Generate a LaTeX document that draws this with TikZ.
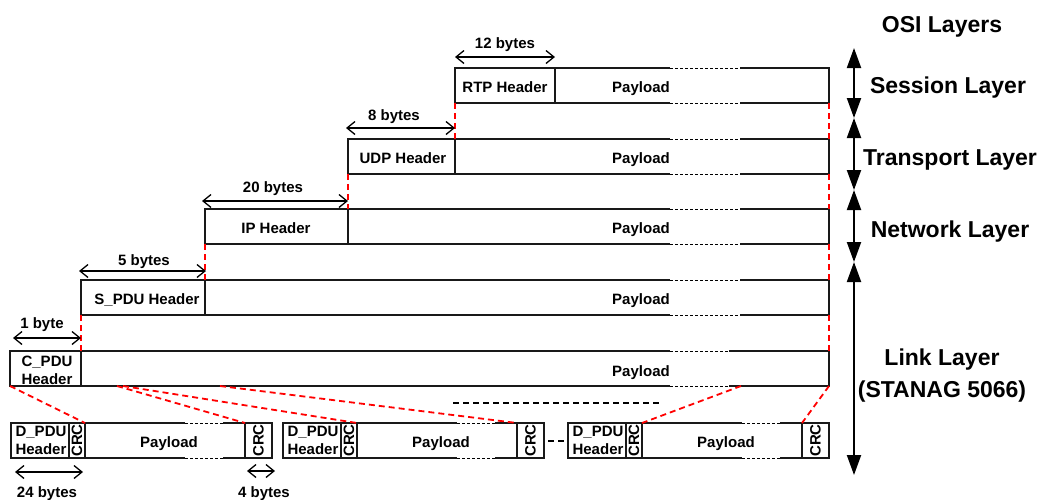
\documentclass[tikz,border=0pt]{standalone}
\usepackage{fontspec}
\setmainfont{Liberation Sans}
\usetikzlibrary{arrows.meta}
\begin{document}
\begin{tikzpicture}[x=1pt,y=-1pt,
  box/.style={draw=black!90, line width=1.4pt, rectangle, inner sep=0pt, outer sep=0pt,
              anchor=north west, minimum height=35pt},
  lbl/.style={font=\fontsize{15}{18}\selectfont\bfseries, inner sep=0pt, anchor=base},
  twoline/.style={font=\fontsize{15}{18}\selectfont\bfseries, inner sep=0pt, align=center},
  crctext/.style={font=\fontsize{15}{18}\selectfont\bfseries, inner sep=0pt, rotate=90},
  layer/.style={font=\fontsize{23}{27}\selectfont\bfseries, inner sep=0pt, anchor=base},
  split/.style={red, dash pattern=on 6pt off 4pt, line width=1.8pt},
  ellipsis/.style={black, dash pattern=on 6pt off 4pt, line width=2pt},
  dim/.style={{Straight Barb[length=8pt,width=13pt]}-{Straight Barb[length=8pt,width=13pt]}, line width=1.3pt},
  span/.style={{Triangle[length=20pt,width=14pt]}-{Triangle[length=20pt,width=14pt]}, line width=2pt},
  gapwhite/.style={white, line width=2.6pt},
  gapdash/.style={black, line width=0.9pt, dash pattern=on 3pt off 2pt},
]
\useasboundingbox (0,0) rectangle (1042,499);

% ---- protocol stack rows: header + payload ----
\node[box, minimum width=100pt] (rtph) at (455,68) {};
\node[box, minimum width=274pt] (rtpp) at (rtph.north east) {};
\node[box, minimum width=107pt] (udph) at (348,139) {};
\node[box, minimum width=374pt] (udpp) at (udph.north east) {};
\node[box, minimum width=143pt] (iph) at (205,209) {};
\node[box, minimum width=481pt] (ipp) at (iph.north east) {};
\node[box, minimum width=124pt] (spduh) at (81,280) {};
\node[box, minimum width=624pt] (spdup) at (spduh.north east) {};
\node[box, minimum width=71pt] (cpduh) at (10,351) {};
\node[box, minimum width=748pt] (cpdup) at (cpduh.north east) {};

% broken (dotted) stretches of the payload edges
\foreach \y/\xe in {68/740,103/740,139/740,174/740,209/740,244/740,280/740,315/740,351/729,386/729}{
  \draw[gapwhite] (670,\y) -- (\xe,\y);
  \draw[gapdash] (670,\y) -- (\xe,\y);
}

% row labels
\node[lbl] (rtpt) at (505,92) {RTP Header};
\node[lbl] (rtppt) at (641,92) {Payload};
\node[lbl] (udpt) at (403,163) {UDP Header};
\node[lbl] (udppt) at (641,163) {Payload};
\node[lbl] (ipt) at (276,233) {IP Header};
\node[lbl] (ippt) at (641,233) {Payload};
\node[lbl] (spdut) at (147,304) {S\_PDU Header};
\node[lbl] (spdupt) at (641,304) {Payload};
\node[twoline] (cpdut) at (47,370) {C\_PDU\\Header};
\node[lbl] (cpdupt) at (641,376) {Payload};

% ---- D_PDU frames ----
\foreach \i/\x in {1/11,2/283,3/568}{
  \node[box, minimum width=58pt] (d\i h) at (\x,423) {};
  \node[box, minimum width=16pt] (d\i c) at (d\i h.north east) {};
  \node[box, minimum width=160pt] (d\i p) at (d\i c.north east) {};
  \node[box, minimum width=27pt] (d\i r) at (d\i p.north east) {};
  \draw[gapwhite] ([xshift=100pt]d\i p.north west) -- ([xshift=138pt]d\i p.north west);
  \draw[gapdash] ([xshift=100pt]d\i p.north west) -- ([xshift=138pt]d\i p.north west);
  \draw[gapwhite] ([xshift=100pt]d\i p.south west) -- ([xshift=138pt]d\i p.south west);
  \draw[gapdash] ([xshift=100pt]d\i p.south west) -- ([xshift=138pt]d\i p.south west);
  \node[twoline] (d\i ht) at ([xshift=1pt]d\i h.center) {D\_PDU\\Header};
  \node[crctext] (d\i ct) at (d\i c.center) {CRC};
  \node[crctext] (d\i rt) at (d\i r.center) {CRC};
  \path (d\i p.center) ++(4,7) node[lbl] (d\i pt) {Payload};
}

% ---- red dashed mapping lines ----
\draw[split] (rtph.south west) -- (udpp.north west);
\draw[split] (rtpp.south east) -- (udpp.north east);
\draw[split] (udph.south west) -- (ipp.north west);
\draw[split] (udpp.south east) -- (ipp.north east);
\draw[split] (iph.south west) -- (spdup.north west);
\draw[split] (ipp.south east) -- (spdup.north east);
\draw[split] (spduh.south west) -- (cpdup.north west);
\draw[split] (spdup.south east) -- (cpdup.north east);

\coordinate (c1) at ([xshift=36pt]cpdup.south west);
\coordinate (c2) at ([xshift=42pt]cpdup.south west);
\coordinate (c3) at ([xshift=139pt]cpdup.south west);
\coordinate (c4) at ([xshift=660pt]cpdup.south west);
\draw[split] (cpduh.south west) -- (d1c.north east);
\draw[split] (c1) -- (d1p.north east);
\draw[split] (c2) -- (d2p.north west);
\draw[split] (c3) -- (d2p.north east);
\draw[split] (c4) -- (d3p.north west);
\draw[split] (cpdup.south east) -- (d3p.north east);

% continuation marks
\coordinate (m1) at (453,403);
\coordinate (m2) at (660,403);
\draw[ellipsis] (m1) -- (m2);
\draw[ellipsis, shorten <=4pt, shorten >=3pt] (d2r.east) -- (d3h.west);

% ---- field sizes ----
\draw[dim] ([yshift=11pt]rtph.north west) -- ([yshift=11pt]rtph.north east);
\node[lbl] (b12) at (505,48) {12 bytes};
\draw[dim] ([xshift=-2pt,yshift=11pt]udph.north west) -- ([yshift=11pt]udph.north east);
\node[lbl] (b8) at (394,120) {8 bytes};
\draw[dim] ([xshift=-3pt,yshift=8pt]iph.north west) -- ([yshift=8pt]iph.north east);
\node[lbl] (b20) at (273,192) {20 bytes};
\draw[dim] ([xshift=-2pt,yshift=9pt]spduh.north west) -- ([xshift=1pt,yshift=9pt]spduh.north east);
\node[lbl] (b5) at (144,265) {5 bytes};
\draw[dim] ([xshift=3pt,yshift=13pt]cpduh.north west) -- ([yshift=13pt]cpduh.north east);
\node[lbl] (b1) at (42,328) {1 byte};
\draw[dim] ([xshift=4pt,yshift=-14pt]d1h.south west) -- ([xshift=-2pt,yshift=-14pt]d1c.south east);
\node[lbl] (b24) at (47,497) {24 bytes};
\draw[dim] ([xshift=2pt,yshift=-13pt]d1r.south west) -- ([xshift=3pt,yshift=-13pt]d1r.south east);
\node[lbl] (b4) at (264,497) {4 bytes};

% ---- OSI layer spans ----
\coordinate (L0) at (854,48);
\coordinate (L1) at (854,118);
\coordinate (L2) at (854,190);
\coordinate (L3) at (854,262);
\coordinate (L4) at (854,475);
\draw[span] (L0) -- (L1);
\draw[span] (L1) -- (L2);
\draw[span] (L2) -- (L3);
\draw[span] (L3) -- (L4);

\node[layer] (osi) at (942,32) {OSI Layers};
\node[layer] (ses) at (948,93) {Session Layer};
\node[layer] (tra) at (950,165) {Transport Layer};
\node[layer] (net) at (950,237) {Network Layer};
\node[layer] (lnk) at (942,365) {Link Layer};
\node[layer] (stn) at (942,397) {(STANAG 5066)};
\end{tikzpicture}
\end{document}
